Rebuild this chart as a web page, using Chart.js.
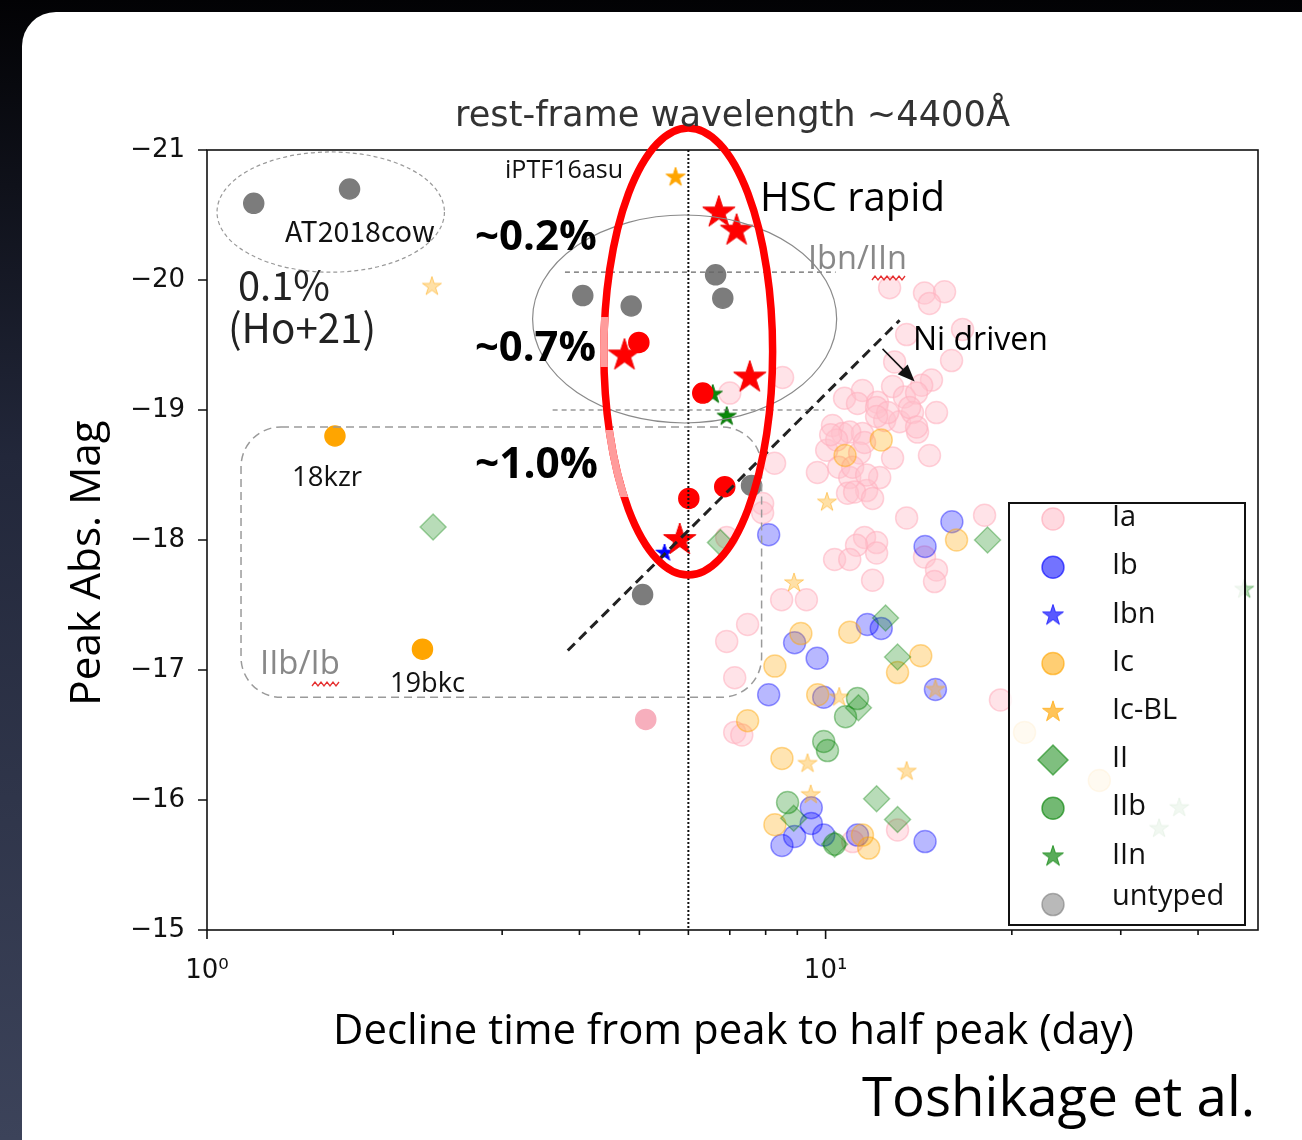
<!DOCTYPE html>
<html>
<head>
<meta charset="utf-8">
<title>Peak Abs. Mag vs decline time</title>
<script src="https://cdn.jsdelivr.net/npm/chart.js@4.4.1/dist/chart.umd.min.js"></script>
<style>
  html, body { margin: 0; padding: 0; }
  body {
    width: 1302px; height: 1140px; overflow: hidden; position: relative;
    background: linear-gradient(180deg, #020204 0%, #22273a 40%, #3c435a 100%);
  }
  #panel { position: absolute; left: 22px; top: 12px; width: 1340px; height: 1200px; background: #fff; border-radius: 34px; }
  #chart { position: absolute; left: 0; top: 0; }
</style>
</head>
<body>
<div id="panel"></div>
<canvas id="chart" width="1302" height="1140"></canvas>
<script>
// axes
const xTicks = [1, 2, 3, 4, 5, 6, 7, 8, 9, 10, 20, 30, 40];
const xTickLabels = { 1: "10\u2070", 10: "10\u00b9" };
const yTicks = [-21, -20, -19, -18, -17, -16, -15];
const typeNames = ["Ia", "Ib", "Ibn", "Ic", "Ic-BL", "II", "IIb", "IIn", "untyped"];

// [decline time (day), peak abs. mag]
const typeIa = [[7.00,-19.13],[8.52,-19.25],[12.69,-19.94],[14.45,-19.90],[15.57,-19.91],[14.72,-19.82],[13.52,-19.58],[16.65,-19.62],
  [15.98,-19.38],[12.93,-19.37],[14.83,-19.23],[14.30,-19.19],[10.73,-19.09],[11.47,-19.15],[12.83,-19.18],[13.41,-19.10],[14.03,-19.13],
  [11.26,-19.05],[12.13,-19.06],[15.11,-18.98],[10.26,-18.88],[10.65,-18.82],[11.47,-18.82],[12.46,-18.92],[13.17,-18.91],[13.82,-18.98],
  [14.08,-18.83],[10.04,-18.69],[12.83,-18.63],[14.72,-18.65],[11.35,-18.67],[9.70,-18.52],[10.50,-18.56],[12.23,-18.48],[10.94,-18.48],
  [11.65,-18.38],[12.09,-19.02],[12.60,-18.98],[13.67,-19.02],[10.94,-18.83],[11.56,-18.75],[12.09,-18.95],[14.03,-18.87],[10.42,-18.77],
  [11.06,-18.56],[11.65,-18.50],[10.85,-18.36],[11.14,-18.37],[11.91,-18.32],[13.52,-18.17],[18.07,-18.19],[8.27,-18.59],[7.91,-18.28],
  [7.91,-18.21],[11.56,-18.02],[12.09,-17.98],[12.09,-17.90],[11.22,-17.96],[10.34,-17.85],[10.94,-17.85],[14.45,-17.87],[15.11,-17.77],
  [15.00,-17.68],[11.91,-17.69],[8.49,-17.54],[9.31,-17.54],[10.19,-18.81],[7.48,-17.35],[6.92,-17.22],[7.13,-16.94],[7.13,-16.52],
  [7.32,-16.50],[19.17,-16.77],[11.06,-15.68],[13.07,-15.77],[6.92,-18.02]];
const typeIb = [[8.09,-18.04],[16.00,-18.14],[14.48,-17.95],[11.68,-17.35],[12.30,-17.32],[8.91,-17.21],[9.69,-17.09],[8.09,-16.81],
  [9.93,-16.79],[15.05,-16.85],[9.48,-15.94],[9.48,-15.82],[8.91,-15.72],[8.50,-15.65],[9.93,-15.73],[11.26,-15.73],[14.48,-15.68]];
const typeIc = [[10.75,-18.65],[12.30,-18.77],[16.28,-18.00],[9.12,-17.28],[10.94,-17.29],[8.28,-17.03],[14.25,-17.11],[13.07,-16.98],
  [9.71,-16.81],[7.48,-16.61],[8.50,-16.32],[8.28,-15.81],[11.47,-15.73],[11.74,-15.63],[20.97,-16.52],[27.7,-16.15]];
const typeIcBL = [[2.31,-19.95],[10.05,-18.29],[8.89,-17.67],[10.52,-16.79],[15.05,-16.85],[9.35,-16.28],[13.52,-16.22],[9.46,-16.04]];
const typeII = [[2.32,-18.10],[6.76,-17.98],[12.50,-17.40],[13.07,-17.10],[11.30,-16.71],[8.88,-15.86],[10.34,-15.66],[12.09,-16.01],
  [13.07,-15.85],[18.27,-18.00]];
const typeIIb = [[11.26,-16.78],[10.77,-16.64],[9.93,-16.45],[10.07,-16.38],[8.68,-15.98],[10.34,-15.66]];
const typeIIn = [[34.6,-15.78],[37.3,-15.94],[47.5,-17.62]];
const untyped = [[1.19,-20.59],[1.70,-20.70],[4.05,-19.88],[4.85,-19.80],[6.64,-20.04],[6.82,-19.86],[7.59,-18.42],[5.06,-17.58]];
const hscRapidStars = [[6.72,-20.52],[7.18,-20.38],[4.73,-19.42],[7.54,-19.25],[5.81,-18.00]];
const hscRapidDots = [[4.99,-19.52],[6.33,-19.13],[6.01,-18.32],[6.87,-18.41]];
const namedIc = [[1.61,-18.80],[2.23,-17.16]];   // 18kzr, 19bkc
const namedIcBL = [[5.72,-20.79]];               // iPTF16asu
const brightIa = [[5.12,-16.62]];
const brightIIn = [[6.57,-19.12],[6.92,-18.95]];
const brightIbn = [[5.49,-17.90]];

// guide lines and regions, in data units
const splitTime = 6.0;
const bandUpper = [[3.79,-20.06],[10.38,-20.06]];
const bandLower = [[3.62,-19.0],[9.96,-19.0]];
const niDriven = [[3.83,-17.15],[13.17,-19.69]];
const niArrow = [[12.36,-19.47],[13.93,-19.22]];
const cowRegion = { x0: 1.038, x1: 2.42, y0: -20.985, y1: -20.06 };
const fastRegion = { x0: 3.36, x1: 10.42, y0: -20.5, y1: -18.9 };
const iibRegion = { x0: 1.135, x1: 7.88, y0: -18.87, y1: -16.79 };
const hscRegion = { x0: 4.38, x1: 8.21, y0: -21.17, y1: -17.73 };
const hscFaded = [[-19.715, -19.33], [-18.846, -18.33]];

// filled 5-point star used as a point style
function starImage(r, fill, stroke) {
    const c = document.createElement("canvas");
    const s = Math.ceil(r * 2 + 4);
    c.width = s;
    c.height = s;
    const g = c.getContext("2d");
    g.translate(s / 2, s / 2);
    g.beginPath();
    for (let i = 0; i < 10; i++) {
        const rr = i % 2 ? r * 0.382 : r;
        const a = -Math.PI / 2 + i * Math.PI / 5;
        g.lineTo(rr * Math.cos(a), rr * Math.sin(a));
    }
    g.closePath();
    g.fillStyle = fill;
    g.fill();
    g.lineWidth = 1;
    g.strokeStyle = stroke;
    g.stroke();
    return c;
}

const pts = (list) => list.map(([x, y]) => ({ x, y }));

function scatter(label, list, order, style) {
    return Object.assign({ type: "scatter", label, data: pts(list), order, pointBorderWidth: 1.5 }, style);
}

function guide(list, order, style) {
    return Object.assign({
        type: "line", data: pts(list), order, pointRadius: 0, fill: false, borderWidth: 1
    }, style);
}

const circle = (r, bg, border) => ({ pointStyle: "circle", pointRadius: r, pointBackgroundColor: bg, pointBorderColor: border });
const star = (r, bg, border) => ({ pointStyle: starImage(r, bg, border), pointRadius: r });

const datasets = [
    scatter("Ia", typeIa, 10, circle(11, "rgba(255,192,203,0.45)", "rgba(255,175,190,0.55)")),
    scatter("Ib", typeIb, 9, circle(11, "rgba(0,0,255,0.28)", "rgba(0,0,255,0.38)")),
    scatter("Ic", typeIc, 8, circle(11, "rgba(255,165,0,0.3)", "rgba(255,165,0,0.42)")),
    scatter("Ic-BL", typeIcBL, 7, star(10, "rgba(255,165,0,0.35)", "rgba(255,165,0,0.5)")),
    scatter("II", typeII, 6, { pointStyle: "rectRot", pointRadius: 13, pointBackgroundColor: "rgba(0,128,0,0.28)", pointBorderColor: "rgba(0,128,0,0.35)" }),
    scatter("IIb", typeIIb, 5, circle(11, "rgba(0,128,0,0.28)", "rgba(0,128,0,0.38)")),
    scatter("IIn", typeIIn, 4, star(10, "rgba(0,128,0,0.3)", "rgba(0,128,0,0.4)")),
    scatter("untyped", untyped, 3, circle(10, "#7c7c7c", "#7c7c7c")),
    scatter("Ia (named)", brightIa, 3, circle(10, "#f7afbd", "#f7afbd")),
    scatter("Ic (named)", namedIc, 3, circle(10, "#ffa500", "#ffa500")),
    scatter("Ic-BL (named)", namedIcBL, 3, star(10, "#ffa500", "#ffa500")),
    scatter("IIn (named)", brightIIn, 3, star(10, "#0a8a0a", "#087008")),
    scatter("Ibn (named)", brightIbn, 2, star(9, "#0000ff", "#0000ff")),
    scatter("HSC rapid", hscRapidDots, 1, circle(10, "#ff0000", "#ff0000")),
    scatter("HSC rapid stars", hscRapidStars, 1, star(17, "#ff0000", "#ee0000")),
    guide([[splitTime, yTicks[0]], [splitTime, yTicks[yTicks.length - 1]]], 0, { borderColor: "#111", borderWidth: 2, borderDash: [2, 2] }),
    guide(bandUpper, 0, { borderColor: "#666", borderWidth: 1.2, borderDash: [5, 4] }),
    guide(bandLower, 0, { borderColor: "#666", borderWidth: 1.2, borderDash: [5, 4] }),
    guide(niDriven, 0, { borderColor: "#222", borderWidth: 3, borderDash: [10, 6] })
];

// legend markers (style only)
const legendStyles = [
    ["circle", 11, "rgba(255,192,203,0.6)", "rgba(255,175,190,0.7)"],
    ["circle", 11, "rgba(0,0,255,0.55)", "rgba(0,0,255,0.6)"],
    [starImage(11, "rgba(0,0,255,0.65)", "rgba(0,0,255,0.7)"), 11, null, null],
    ["circle", 11, "rgba(255,165,0,0.55)", "rgba(255,165,0,0.6)"],
    [starImage(11, "rgba(255,165,0,0.65)", "rgba(255,165,0,0.7)"), 11, null, null],
    ["rectRot", 15, "rgba(0,128,0,0.5)", "rgba(0,128,0,0.55)"],
    ["circle", 11, "rgba(0,128,0,0.55)", "rgba(0,128,0,0.6)"],
    [starImage(11, "rgba(0,128,0,0.65)", "rgba(0,128,0,0.7)"), 11, null, null],
    ["circle", 11, "rgba(128,128,128,0.55)", "rgba(128,128,128,0.6)"]
];

// text placed on the slide: [text, left, centre y, width, family, weight, colour]
const notes = [
    ["rest-frame wavelength ~4400\u00c5", 455, 117, 555, "DejaVu Sans", "normal", "#333"],
    ["iPTF16asu", 505, 171, 118, "Open Sans", "normal", "#111"],
    ["HSC rapid", 760, 200, 185, "Open Sans", "normal", "#000"],
    ["AT2018cow", 285, 231, 150, "Noto Sans CJK JP", "normal", "#111"],
    ["~0.2%", 475, 238, 122, "Open Sans", "bold", "#000"],
    ["Ibn/IIn", 808, 260, 99, "Open Sans", "normal", "#888"],
    ["0.1%", 238, 285, 92, "Noto Sans CJK JP", "normal", "#222"],
    ["(Ho+21)", 228, 328, 148, "Noto Sans CJK JP", "normal", "#222"],
    ["~0.7%", 475, 349, 121, "Open Sans", "bold", "#000"],
    ["Ni driven", 913, 341, 135, "Open Sans", "normal", "#000"],
    ["~1.0%", 475, 466, 123, "Open Sans", "bold", "#000"],
    ["18kzr", 292, 478, 70, "Open Sans", "normal", "#111"],
    ["IIb/Ib", 260, 665, 80, "Open Sans", "normal", "#888"],
    ["19bkc", 390, 684, 75, "Open Sans", "normal", "#111"],
    ["Toshikage et al.", 862, 1100, 393, "Open Sans", "normal", "#000"],
    ["Decline time from peak to half peak (day)", 333, 1032, 800, "Open Sans", "normal", "#000"]
];

function fitFont(ctx, text, width, family, weight) {
    ctx.font = `${weight} 100px "${family}"`;
    const size = 100 * width / ctx.measureText(text).width;
    ctx.font = `${weight} ${size.toFixed(1)}px "${family}"`;
}

function squiggle(ctx, x0, x1, y) {
    ctx.beginPath();
    for (let x = x0, i = 0; x <= x1; x += 3, i++) {
        ctx.lineTo(x, y + (i % 2 ? -2 : 2));
    }
    ctx.strokeStyle = "#e53030";
    ctx.lineWidth = 1.3;
    ctx.stroke();
}

const overlay = {
    id: "overlay",
    afterDatasetsDraw(chart) {
        const { ctx, chartArea: a, scales: { x, y } } = chart;
        const px = (v) => x.getPixelForValue(v);
        const py = (v) => y.getPixelForValue(v);
        ctx.save();

        // frame and tick marks
        ctx.strokeStyle = "#111";
        ctx.lineWidth = 1.6;
        ctx.strokeRect(a.left, a.top, a.width, a.height);
        ctx.beginPath();
        xTicks.forEach((v) => {
            const len = xTickLabels[v] ? 9 : 5;
            ctx.moveTo(px(v), a.bottom);
            ctx.lineTo(px(v), a.bottom + len);
        });
        yTicks.forEach((v) => {
            ctx.moveTo(a.left, py(v));
            ctx.lineTo(a.left - 9, py(v));
        });
        ctx.stroke();

        // legend
        ctx.fillStyle = "rgba(255,255,255,0.82)";
        ctx.fillRect(1009, 503, 236, 422);
        ctx.lineWidth = 2;
        ctx.strokeStyle = "#111";
        ctx.strokeRect(1009, 503, 236, 422);
        ctx.font = '29px "Open Sans"';
        ctx.textBaseline = "middle";
        typeNames.forEach((name, i) => {
            const rowY = 519 + i * 48.2;
            const [style, r, bg, border] = legendStyles[i];
            ctx.fillStyle = bg || "#000";
            ctx.strokeStyle = border || "#000";
            ctx.lineWidth = 1.5;
            Chart.helpers.drawPoint(ctx, { pointStyle: style, radius: r, rotation: 0, borderWidth: bg ? 1.5 : 0 }, 1053, rowY);
            ctx.fillStyle = "#111";
            ctx.fillText(name, 1112, rowY - (name === "untyped" ? 8 : 1));
        });

        // regions
        const box = (r) => ({ l: px(r.x0), rt: px(r.x1), t: py(r.y0), b: py(r.y1) });
        const ellipsePath = (r) => {
            const q = box(r);
            ctx.beginPath();
            ctx.ellipse((q.l + q.rt) / 2, (q.t + q.b) / 2, (q.rt - q.l) / 2, (q.b - q.t) / 2, 0, 0, Math.PI * 2);
        };
        ctx.setLineDash([]);
        ctx.strokeStyle = "#8a8a8a";
        ctx.lineWidth = 1.2;
        ellipsePath(fastRegion);
        ctx.stroke();

        ctx.setLineDash([4, 3]);
        ctx.strokeStyle = "#999";
        ellipsePath(cowRegion);
        ctx.stroke();

        const q = box(iibRegion), rad = 40;
        ctx.setLineDash([8, 5]);
        ctx.lineWidth = 1.5;
        ctx.strokeStyle = "#9a9a9a";
        ctx.beginPath();
        ctx.moveTo(q.l + rad, q.t);
        ctx.arcTo(q.rt, q.t, q.rt, q.b, rad);
        ctx.arcTo(q.rt, q.b, q.l, q.b, rad);
        ctx.arcTo(q.l, q.b, q.l, q.t, rad);
        ctx.arcTo(q.l, q.t, q.rt, q.t, rad);
        ctx.stroke();
        ctx.setLineDash([]);

        // HSC rapid ring
        ctx.lineWidth = 7.5;
        ctx.strokeStyle = "#ff0000";
        ellipsePath(hscRegion);
        ctx.stroke();
        ctx.save();
        ctx.beginPath();
        hscFaded.forEach(([y0, y1]) => ctx.rect(a.left, py(y0), px(5) - a.left, py(y1) - py(y0)));
        ctx.clip();
        ctx.strokeStyle = "#ff9c9c";
        ellipsePath(hscRegion);
        ctx.stroke();
        ctx.restore();

        // arrow to the Ni driven group
        const [p0, p1] = niArrow.map(([vx, vy]) => [px(vx), py(vy)]);
        const ang = Math.atan2(p1[1] - p0[1], p1[0] - p0[0]);
        ctx.strokeStyle = "#111";
        ctx.fillStyle = "#111";
        ctx.lineWidth = 1.5;
        ctx.beginPath();
        ctx.moveTo(p0[0], p0[1]);
        ctx.lineTo(p1[0] - 12 * Math.cos(ang), p1[1] - 12 * Math.sin(ang));
        ctx.stroke();
        ctx.beginPath();
        ctx.moveTo(p1[0], p1[1]);
        ctx.lineTo(p1[0] - 17 * Math.cos(ang) + 7 * Math.sin(ang), p1[1] - 17 * Math.sin(ang) - 7 * Math.cos(ang));
        ctx.lineTo(p1[0] - 17 * Math.cos(ang) - 7 * Math.sin(ang), p1[1] - 17 * Math.sin(ang) + 7 * Math.cos(ang));
        ctx.closePath();
        ctx.fill();

        // labels
        ctx.textBaseline = "middle";
        ctx.textAlign = "left";
        notes.forEach(([text, left, cy, width, family, weight, color]) => {
            fitFont(ctx, text, width, family, weight);
            ctx.fillStyle = color;
            ctx.fillText(text, left, cy);
        });
        ctx.save();
        ctx.translate(88, 563);
        ctx.rotate(-Math.PI / 2);
        fitFont(ctx, "Peak Abs. Mag", 285, "Open Sans", "normal");
        ctx.fillStyle = "#000";
        ctx.textAlign = "center";
        ctx.fillText("Peak Abs. Mag", 0, 0);
        ctx.restore();

        squiggle(ctx, 872, 906, 278);
        squiggle(ctx, 312, 340, 684);
        ctx.restore();
    }
};

const tickFont = { family: "DejaVu Sans", size: 26 };

new Chart(document.getElementById("chart"), {
    type: "scatter",
    data: { datasets },
    options: {
        responsive: false,
        animation: false,
        devicePixelRatio: 1,
        layout: { padding: { left: 0, top: 150, right: 44, bottom: 0 } },
        plugins: { legend: { display: false }, tooltip: { enabled: false } },
        scales: {
            x: {
                type: "logarithmic",
                min: 1,
                max: 50,
                afterFit: (s) => { s.height = 210; },
                afterBuildTicks: (s) => { s.ticks = xTicks.map((v) => ({ value: v })); },
                ticks: {
                    autoSkip: false, maxRotation: 0, padding: 26, font: tickFont, color: "#111",
                    callback: (v) => xTickLabels[v] || ""
                },
                grid: { display: false, drawTicks: false },
                border: { display: false }
            },
            y: {
                type: "linear",
                min: -21,
                max: -15,
                reverse: true,
                afterFit: (s) => { s.width = 207; },
                afterBuildTicks: (s) => { s.ticks = yTicks.map((v) => ({ value: v })); },
                ticks: {
                    padding: 22, font: tickFont, color: "#111",
                    callback: (v) => String(v).replace("-", "\u2212")
                },
                grid: { display: false, drawTicks: false },
                border: { display: false }
            }
        }
    },
    plugins: [overlay]
});
</script>
</body>
</html>
